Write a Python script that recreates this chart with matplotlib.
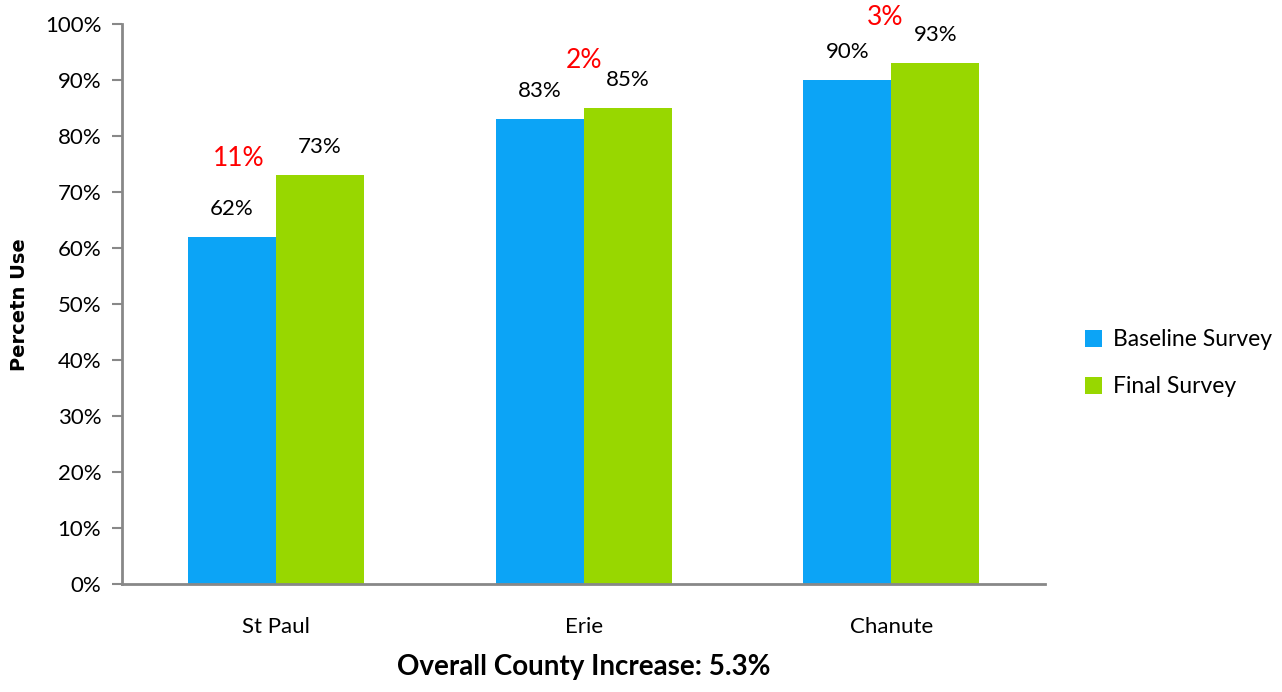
import numpy as np
import matplotlib
matplotlib.use("Agg")
import matplotlib.pyplot as plt

# --- Data ---
sites = ["St Paul", "Erie", "Chanute"]
baseline = [62, 83, 90]
final = [73, 85, 93]
series_names = ["Baseline Survey", "Final Survey"]
title_text = "Overall County Increase: 5.3%"
ylabel_text = "Percetn Use"

# --- Style ---
BLUE = "#0ca4f6"
GREEN = "#98d700"
GRAY = "#888888"

plt.rcParams["font.family"] = ["Lato", "DejaVu Sans"]

fig = plt.figure(figsize=(12.82, 6.92), dpi=100)
ax = fig.add_axes([0.0952, 0.156, 0.72, 0.809])

x = np.arange(len(sites))
w = 0.286
b1 = ax.bar(x - w / 2, baseline, w, color=BLUE, label=series_names[0])
b2 = ax.bar(x + w / 2, final, w, color=GREEN, label=series_names[1])

for bars, vals in ((b1, baseline), (b2, final)):
    for bar, v in zip(bars, vals):
        ax.annotate(f"{v}%", (bar.get_x() + bar.get_width() / 2, v),
                    xytext=(0, 13), textcoords="offset points",
                    ha="center", va="bottom", fontsize=16)

# difference labels (red), placement tweaks per group
diff_dx = [-0.12, 0.0, -0.02]
diff_dy = [3, 8.6, 8.2]
for i, (b, f) in enumerate(zip(baseline, final)):
    ax.text(x[i] + diff_dx[i], max(b, f) + diff_dy[i], f"{f - b}%",
            color="red", fontsize=19, ha="center", va="center")

ax.set_xlim(-0.5, len(sites) - 0.5)
ax.set_ylim(0, 100)
ax.set_yticks(np.arange(0, 101, 10))
ax.set_yticklabels([f"{t}%" for t in range(0, 101, 10)], fontsize=16)
ax.set_xticks(x)
ax.set_xticklabels(sites, fontsize=16)
ax.tick_params(axis="x", length=0, pad=24)
ax.tick_params(axis="y", length=7, width=1.5, color=GRAY, pad=8)

for s in ("top", "right"):
    ax.spines[s].set_visible(False)
for s in ("left", "bottom"):
    ax.spines[s].set_color(GRAY)
    ax.spines[s].set_linewidth(2)

fig.text(20 / 1282, 1 - 305 / 692, ylabel_text, rotation=90, ha="center",
         va="center", fontsize=14, fontweight="bold", family="DejaVu Sans")

fig.legend(handles=[b1, b2], labels=series_names, loc="center left",
           bbox_to_anchor=(0.83, 0.475), frameon=False, fontsize=16.5,
           handlelength=0.75, handleheight=0.75, labelspacing=1.15, handletextpad=0.5)

fig.text(0.455, 0.018, title_text, ha="center", va="bottom",
         fontsize=20, fontweight="bold")

fig.savefig("out.png", dpi=100)
